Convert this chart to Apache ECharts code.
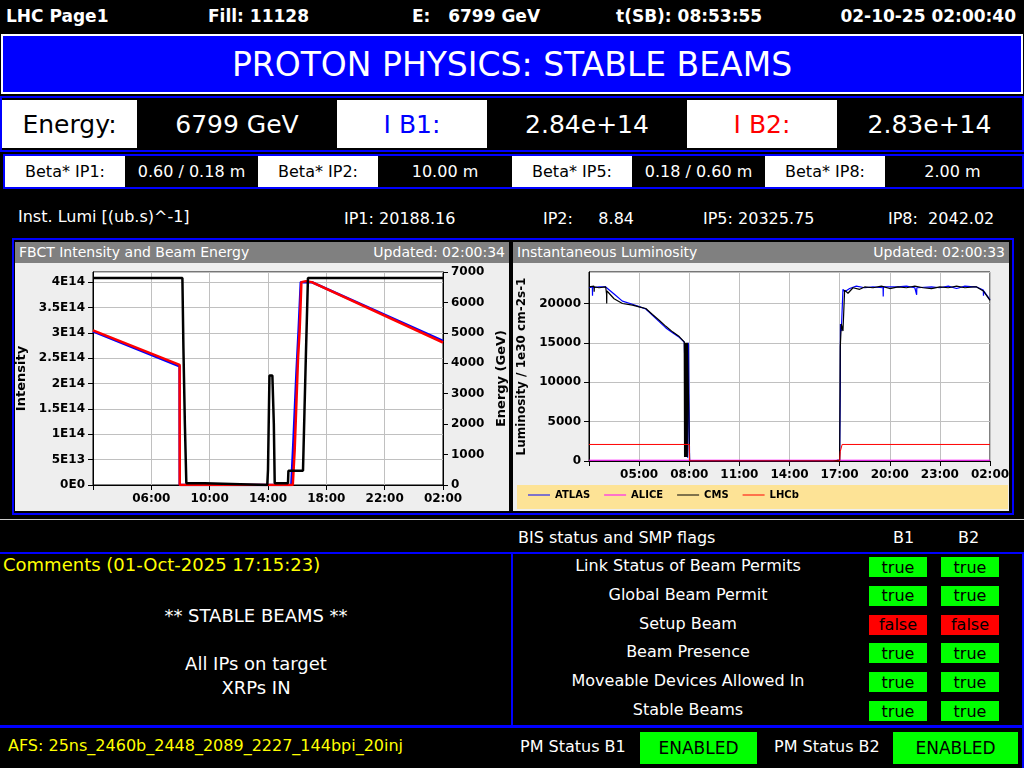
<!DOCTYPE html>
<html>
<head>
<meta charset="utf-8">
<script src="https://cdn.jsdelivr.net/npm/echarts@6/dist/echarts.min.js"></script>
<style>
  body { margin: 0; background: #000; width: 1024px; height: 768px; overflow: hidden;
         font-family: "DejaVu Sans", sans-serif; color: #fff; }
  .a { position: absolute; white-space: nowrap; }
  .box { position: absolute; display: flex; align-items: center; justify-content: center; }
  .bord { position: absolute; border: 2px solid #0000ff; box-sizing: border-box; }
</style>
</head>
<body>
<!-- header line -->
<div class="a" style="left:6px;top:6px;font-size:17px;font-weight:bold">LHC Page1</div>
<div class="a" style="left:208px;top:6px;font-size:17px;font-weight:bold">Fill: 11128</div>
<div class="a" style="left:412px;top:6px;font-size:17px;font-weight:bold">E:&nbsp;&nbsp;&nbsp;6799 GeV</div>
<div class="a" style="left:616px;top:6px;font-size:17px;font-weight:bold">t(SB): 08:53:55</div>
<div class="a" style="right:8px;top:6px;font-size:17px;font-weight:bold">02-10-25 02:00:40</div>

<div class="box" style="left:1px;top:34px;width:1018px;height:56px;background:#0000ff;border:2px solid #fff;font-size:33px">PROTON PHYSICS: STABLE BEAMS</div>

<div class="bord" style="left:0;top:96px;width:1024px;height:56px"></div>
<div class="box" style="left:2px;top:100px;width:135px;height:48px;background:#fff;color:#000;font-size:25px">Energy:</div>
<div class="box" style="left:137px;top:100px;width:200px;height:48px;font-size:25px">6799 GeV</div>
<div class="box" style="left:337px;top:100px;width:150px;height:48px;background:#fff;color:#0000ff;font-size:25px">I B1:</div>
<div class="box" style="left:487px;top:100px;width:200px;height:48px;font-size:25px">2.84e+14</div>
<div class="box" style="left:687px;top:100px;width:150px;height:48px;background:#fff;color:#ff0000;font-size:25px">I B2:</div>
<div class="box" style="left:837px;top:100px;width:185px;height:48px;font-size:25px">2.83e+14</div>

<div class="bord" style="left:3px;top:154px;width:1021px;height:35px"></div>
<div class="box" style="left:5px;top:156px;width:120px;height:31px;background:#fff;color:#000;font-size:16px">Beta* IP1:</div>
<div class="box" style="left:125px;top:156px;width:133px;height:31px;font-size:16px">0.60 / 0.18 m</div>
<div class="box" style="left:258px;top:156px;width:120px;height:31px;background:#fff;color:#000;font-size:16px">Beta* IP2:</div>
<div class="box" style="left:378px;top:156px;width:134px;height:31px;font-size:16px">10.00 m</div>
<div class="box" style="left:512px;top:156px;width:120px;height:31px;background:#fff;color:#000;font-size:16px">Beta* IP5:</div>
<div class="box" style="left:632px;top:156px;width:133px;height:31px;font-size:16px">0.18 / 0.60 m</div>
<div class="box" style="left:765px;top:156px;width:120px;height:31px;background:#fff;color:#000;font-size:16px">Beta* IP8:</div>
<div class="box" style="left:885px;top:156px;width:135px;height:31px;font-size:16px">2.00 m</div>

<div class="a" style="left:18px;top:207px;font-size:16px">Inst. Lumi [(ub.s)^-1]</div>
<div class="a" style="left:344px;top:209px;font-size:16px">IP1: 20188.16</div>
<div class="a" style="left:543px;top:209px;font-size:16px">IP2:&nbsp;&nbsp;&nbsp;&nbsp;&nbsp;8.84</div>
<div class="a" style="left:703px;top:209px;font-size:16px">IP5: 20325.75</div>
<div class="a" style="left:888px;top:209px;font-size:16px">IP8:&nbsp;&nbsp;2042.02</div>

<div class="bord" style="left:12px;top:238px;width:1002px;height:277px"></div>
<div class="a" style="left:15px;top:242px;width:494px;height:269px;background:#eeeeee"></div>
<div class="a" style="left:15px;top:242px;width:494px;height:21px;background:#808080;font-size:14px;line-height:21px">
  <span style="position:absolute;left:4px">FBCT Intensity and Beam Energy</span>
  <span style="position:absolute;right:4px">Updated: 02:00:34</span></div>
<div class="a" style="left:513px;top:242px;width:496px;height:269px;background:#eeeeee"></div>
<div class="a" style="left:513px;top:242px;width:496px;height:21px;background:#808080;font-size:14px;line-height:21px">
  <span style="position:absolute;left:4px">Instantaneous Luminosity</span>
  <span style="position:absolute;right:4px">Updated: 02:00:33</span></div>
<div class="a" style="left:517px;top:485px;width:491px;height:24px;background:#fde396"></div>
<div id="c1" class="a" style="left:15px;top:263px;width:494px;height:248px"></div>
<div id="c2" class="a" style="left:513px;top:263px;width:496px;height:248px"></div>

<div class="a" style="left:0;top:519px;width:1024px;height:1px;background:#ccc"></div>
<div class="a" style="left:518px;top:528px;font-size:16px">BIS status and SMP flags</div>
<div class="a" style="left:893px;top:528px;font-size:16px">B1</div>
<div class="a" style="left:958px;top:528px;font-size:16px">B2</div>

<div class="bord" style="left:-2px;top:552px;width:515px;height:175px"></div>
<div class="bord" style="left:511px;top:552px;width:513px;height:175px"></div>
<div class="a" style="left:3px;top:554px;font-size:18px;color:#ffff00">Comments (01-Oct-2025 17:15:23)</div>
<div class="a" style="left:0;width:512px;top:605px;text-align:center;font-size:18px">** STABLE BEAMS **</div>
<div class="a" style="left:0;width:512px;top:653px;text-align:center;font-size:18px">All IPs on target</div>
<div class="a" style="left:0;width:512px;top:677px;text-align:center;font-size:18px">XRPs IN</div>
<div id="flags"></div>

<div class="bord" style="left:-2px;top:726px;width:1026px;height:44px"></div>
<div class="a" style="left:8px;top:736px;font-size:16px;color:#ffff00">AFS: 25ns_2460b_2448_2089_2227_144bpi_20inj</div>
<div class="a" style="left:520px;top:737px;font-size:16px">PM Status B1</div>
<div class="box" style="left:640px;top:732px;width:117px;height:32px;background:#00ff00;color:#000;font-size:17px">ENABLED</div>
<div class="a" style="left:774px;top:737px;font-size:16px">PM Status B2</div>
<div class="box" style="left:893px;top:732px;width:125px;height:32px;background:#00ff00;color:#000;font-size:17px">ENABLED</div>

<script>
// SMP flags
const flagNames = ['Link Status of Beam Permits', 'Global Beam Permit', 'Setup Beam',
  'Beam Presence', 'Moveable Devices Allowed In', 'Stable Beams']
const flagB1 = [true, true, false, true, true, true]
const flagB2 = [true, true, false, true, true, true]

// FBCT intensity (units of 1E14) vs hours since 02:00
const b1Hours = [0, 5.94, 5.95, 13.6, 13.75, 13.95, 14.1, 14.25, 14.35, 15.0, 24]
const b1Int = [3.03, 2.34, 0, 0, 0.9, 2.2, 3.05, 4.0, 4.02, 4.0, 2.84]
const b2Hours = [0, 5.94, 5.95, 13.7, 13.83, 14.06, 14.17, 14.29, 14.6, 15.0, 24]
const b2Int = [3.05, 2.37, 0, 0, 0.69, 2.5, 3.05, 4.0, 4.02, 4.0, 2.81]
// beam energy (GeV)
const eHours = [0, 6.13, 6.2, 6.3, 6.4, 7.66, 7.7, 11.95, 12.0, 12.1, 12.3, 12.4, 12.46, 13.37, 13.4, 14.4, 14.5, 14.6, 14.74, 24]
const energy = [6800, 6800, 4500, 2000, 60, 60, 0, 0, 500, 3600, 3600, 2000, 60, 60, 470, 470, 2400, 4300, 6800, 6800]

// luminosity (1e30 cm-2s-1) vs hours since 02:00
const cmsHours = [0, 0.3, 0.31, 0.32, 0.6, 1.0, 1.05, 1.06, 1.07, 1.2, 1.5, 2.0, 2.6, 3.0, 3.4, 3.8, 4.2, 4.6, 5.0, 5.4, 5.7,
  5.72, 5.74, 5.76, 5.8, 5.82, 5.85, 5.88, 5.9, 5.95, 6.0, 6.02, 14.6, 15.0, 15.04, 15.1, 15.2, 15.3, 15.5, 15.8, 16.2,
  16.5, 17.0, 17.5, 18.0, 18.5, 19.0, 19.5, 20.0, 20.5, 21.0, 21.5, 22.0, 22.5, 23.0, 23.2, 23.6, 24]
const cmsLumi = [22100, 22200, 21500, 22100, 22000, 22100, 21200, 20000, 21600, 21300, 20600, 20000, 19800, 19570, 19360, 18600, 17880, 17100, 16400, 15800, 15130,
  500, 15000, 500, 15000, 500, 15000, 500, 15000, 15000, 15000, 0, 0, 100, 14500, 17400, 16500, 21700, 21300, 22000, 21800,
  22100, 22000, 22200, 21900, 22100, 22000, 22200, 22000, 21900, 22100, 22000, 22200, 22000, 22100, 22100, 21600, 20400]
const atlasHours = [0, 0.2, 0.21, 0.22, 0.6, 1.0, 1.5, 2.0, 2.6, 3.0, 3.4, 3.8, 4.2, 4.6, 5.0, 5.4, 5.7, 5.9, 5.95, 6.0, 6.02,
  14.6, 15.0, 15.04, 15.05, 15.1, 15.2, 15.3, 15.6, 16.0, 16.5, 17.0, 17.6, 17.61, 17.62, 18.5, 19.0, 19.5, 19.6, 19.61, 19.62,
  20.5, 21.0, 21.5, 22.0, 22.5, 23.0, 23.2, 23.6, 23.61, 23.62, 24]
const atlasLumi = [22000, 22100, 21000, 22000, 22100, 22100, 21200, 20300, 19900, 19600, 19300, 18500, 17700, 16900, 16300, 15700, 15100, 400, 15000, 14800, 0,
  0, 100, 9000, 17400, 16500, 21800, 21500, 21900, 22200, 22000, 22100, 22000, 20900, 22100, 22100, 22200, 22000, 22200, 21100, 22000,
  22100, 22000, 22200, 21900, 22200, 22100, 22100, 21700, 21000, 21600, 20500]
const aliceHours = [0, 6.0, 6.02, 15.04, 24]
const aliceLumi = [100, 100, 0, 100, 100]
const lhcbHours = [0, 6.0, 6.02, 15.0, 15.04, 15.15, 24]
const lhcbLumi = [2100, 2100, 0, 0, 1200, 2100, 2100]

const zip = (xs, ys) => xs.map((x, i) => [x, ys[i]])
const hhmm = v => String((v + 2) % 24).padStart(2, '0') + ':00'

const flags = document.getElementById('flags')
flagNames.forEach((name, i) => {
  const y = 556 + i * 28.8
  flags.insertAdjacentHTML('beforeend',
    `<div class="a" style="left:520px;width:336px;top:${y}px;text-align:center;font-size:16px">${name}</div>`)
  ;[flagB1[i], flagB2[i]].forEach((f, j) => {
    flags.insertAdjacentHTML('beforeend',
      `<div class="box" style="left:${869 + j * 72}px;top:${y + 1}px;width:58px;height:20px;background:${f ? '#00ff00' : '#ff0000'};color:#000;font-size:16px">${f}</div>`)
  })
})

const axisFont = { color: '#000', fontWeight: 'bold', fontSize: 12, fontFamily: 'DejaVu Sans' }
const gridLine = { show: true, lineStyle: { color: '#c0c0c0' } }
const blackLine = { show: true, lineStyle: { color: '#000' } }

// FBCT chart
const chart1 = echarts.init(document.getElementById('c1'))
chart1.setOption({
  animation: false,
  grid: { left: 78, right: 66, top: 9, bottom: 26, outerBoundsMode: 'none', containLabel: false,
    show: true, backgroundColor: '#fff', borderColor: '#000', borderWidth: 1 },
  xAxis: {
    type: 'value', min: 0, max: 24, interval: 4,
    axisLabel: { ...axisFont, formatter: v => v === 0 ? '' : hhmm(v) },
    axisLine: blackLine, axisTick: blackLine, splitLine: gridLine
  },
  yAxis: [{
    type: 'value', min: 0, max: 4.2, interval: 0.5, name: 'Intensity', nameLocation: 'middle', nameGap: 48,
    nameTextStyle: { ...axisFont, fontSize: 13 },
    axisLabel: { ...axisFont, showMaxLabel: false,
      formatter: v => v === 0 ? '0E0' : (v < 1 ? Math.round(v * 10) + 'E13' : v + 'E14') },
    axisLine: blackLine, axisTick: blackLine, splitLine: gridLine
  }, {
    type: 'value', min: 0, max: 7000, interval: 1000, name: 'Energy (GeV)', nameLocation: 'middle', nameGap: 46,
    nameTextStyle: { ...axisFont, fontSize: 13 }, position: 'right',
    axisLabel: { ...axisFont, formatter: v => String(v) },
    axisLine: blackLine, axisTick: blackLine, splitLine: { show: false }
  }],
  series: [
    { type: 'line', data: zip(b1Hours, b1Int), showSymbol: false, lineStyle: { color: '#0000ff', width: 2.5 } },
    { type: 'line', data: zip(b2Hours, b2Int), showSymbol: false, lineStyle: { color: '#ff0000', width: 2.5 } },
    { type: 'line', yAxisIndex: 1, data: zip(eHours, energy), showSymbol: false, lineStyle: { color: '#000', width: 2.5 } }
  ]
})

// luminosity chart
const chart2 = echarts.init(document.getElementById('c2'))
chart2.setOption({
  animation: false,
  grid: { left: 76, right: 19, top: 9, bottom: 50, outerBoundsMode: 'none', containLabel: false,
    show: true, backgroundColor: '#fff', borderColor: '#000', borderWidth: 1 },
  legend: {
    left: 10, bottom: 6, itemWidth: 22, itemHeight: 1, itemGap: 14, icon: 'rect',
    textStyle: { color: '#000', fontWeight: 'bold', fontSize: 10, fontFamily: 'DejaVu Sans' }
  },
  xAxis: {
    type: 'value', min: 0, max: 24, interval: 3,
    axisLabel: { ...axisFont, formatter: v => v === 0 ? '' : hhmm(v) },
    axisLine: blackLine, axisTick: blackLine, splitLine: gridLine
  },
  yAxis: {
    type: 'value', min: 0, max: 24000, interval: 5000, name: 'Luminosity / 1e30 cm-2s-1',
    nameLocation: 'middle', nameGap: 52,
    nameTextStyle: axisFont,
    axisLabel: { ...axisFont, showMaxLabel: false, formatter: v => String(v) },
    axisLine: blackLine, axisTick: blackLine, splitLine: gridLine
  },
  series: [
    { name: 'ATLAS', type: 'line', data: zip(atlasHours, atlasLumi), showSymbol: false, color: '#0000ff', lineStyle: { width: 1.2 } },
    { name: 'ALICE', type: 'line', data: zip(aliceHours, aliceLumi), showSymbol: false, color: '#ff00ff', lineStyle: { width: 1 } },
    { name: 'CMS', type: 'line', data: zip(cmsHours, cmsLumi), showSymbol: false, color: '#000000', lineStyle: { width: 1.2 } },
    { name: 'LHCb', type: 'line', data: zip(lhcbHours, lhcbLumi), showSymbol: false, color: '#ff0000', lineStyle: { width: 1 } }
  ]
})
</script>
</body>
</html>
